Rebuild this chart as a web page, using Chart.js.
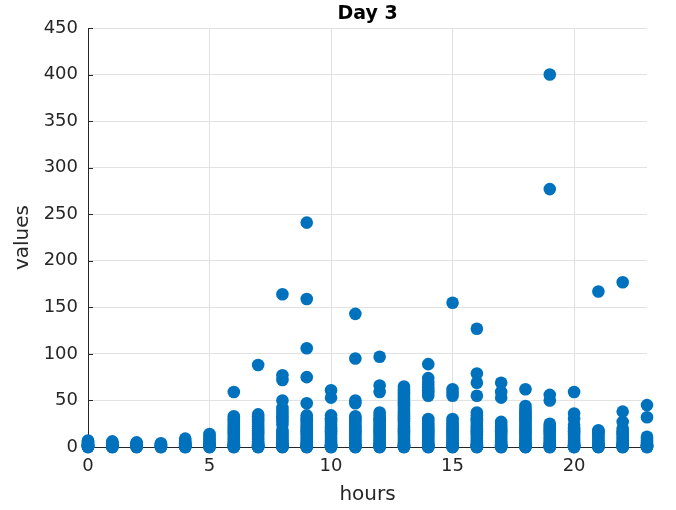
<!DOCTYPE html>
<html><head><meta charset="utf-8">
<script src="https://cdn.jsdelivr.net/npm/chart.js@4/dist/chart.umd.min.js"></script>
<style>html,body{margin:0;padding:0;background:#fff;}canvas{display:block;}</style>
</head><body>
<canvas id="c" width="676" height="510"></canvas>
<script>
const titleText = 'Day 3';
const xLabel = 'hours';
const yLabel = 'values';
const hourLabels = [0,1,2,3,4,5,6,7,8,9,10,11,12,13,14,15,16,17,18,19,20,21,22,23];
const xTickValues = [0,5,10,15,20];
const yTickValues = [0,50,100,150,200,250,300,350,400,450];

const h00 = [0,0,0,1,1,2,2,3,4,5,6,7];
const h01 = [0,0,0,1,1,2,3,4,5,6];
const h02 = [0,0,0,1,1,2,3,4,5];
const h03 = [0,0,0,1,2,3,4];
const h04 = [0,0,0,1,2,3,4,5,7,9];
const h05 = [0,0,0,1,2,3,4,6,8,10,12,14];
const h06 = [0,0,0,1,2,3,4,6,8,10,12,14,16,18,20,22,24,26,28,30,33,59];
const h07 = [0,0,0,1,2,3,4,6,8,10,12,14,16,18,20,22,24,26,28,30,33,35,88];
const h08 = [0,0,0,1,2,3,5,7,9,11,13,15,18,24,27,30,33,36,39,42,50,72,77,164];
const h09 = [0,0,0,1,2,3,5,7,9,11,13,15,17,19,21,23,25,27,29,31,34,47,75,106,159,241];
const h10 = [0,0,0,1,2,3,5,7,9,11,13,15,17,19,21,23,25,27,29,31,34,53,61];
const h11 = [0,0,0,1,2,3,5,7,9,11,13,15,17,19,21,23,25,27,29,31,33,47,50,95,143];
const h12 = [0,0,0,1,2,3,5,7,9,11,13,15,17,19,21,23,25,27,29,31,34,37,59,66,97];
const h13 = [0,0,0,1,2,3,5,7,9,11,13,15,17,19,21,23,25,27,29,31,33,35,37,39,41,43,45,47,49,51,53,55,57,59,62,65];
const h14 = [0,0,0,1,2,3,5,7,9,11,13,15,17,19,21,23,25,27,30,55,58,61,64,67,70,74,89];
const h15 = [0,0,0,1,2,3,5,7,9,11,13,15,17,19,21,23,25,27,30,55,58,62,155];
const h16 = [0,0,0,1,2,3,5,7,9,11,13,15,17,19,21,23,25,27,29,31,34,37,55,69,79,127];
const h17 = [0,0,0,1,2,3,5,7,9,11,13,15,17,19,21,23,25,27,53,59,69];
const h18 = [0,0,0,1,2,3,5,7,9,11,13,15,17,19,21,23,25,27,29,31,33,35,37,39,41,44,62];
const h19 = [0,0,0,1,2,3,5,7,9,11,13,15,17,19,21,23,25,50,56,277,400];
const h20 = [0,0,0,1,2,3,5,7,9,11,13,15,17,19,21,24,30,36,59];
const h21 = [0,0,0,1,2,3,5,7,9,11,13,15,17,18,167];
const h22 = [0,0,0,1,2,3,5,7,9,11,13,15,17,20,27,38,177];
const h23 = [0,0,0,1,2,3,5,7,9,11,32,45];

const hourValues = [h00,h01,h02,h03,h04,h05,h06,h07,h08,h09,h10,h11,h12,h13,h14,h15,h16,h17,h18,h19,h20,h21,h22,h23];

const points = [];
hourValues.forEach((arr, i) => arr.forEach(v => points.push({x: hourLabels[i], y: v})));

const axisColor = '#262626';
const fontFamily = 'DejaVu Sans';

const titlePlugin = {
  id: 'plotTitle',
  afterDraw(chart) {
    const {ctx, chartArea} = chart;
    ctx.save();
    ctx.font = 'bold 19px "' + fontFamily + '"';
    ctx.fillStyle = '#000';
    ctx.textAlign = 'center';
    ctx.textBaseline = 'alphabetic';
    ctx.fillText(titleText, (chartArea.left + chartArea.right) / 2, 18.5);
    ctx.restore();
  }
};

const innerTicks = {
  id: 'innerTicks',
  beforeDatasetsDraw(chart) {
    const {ctx, chartArea, scales} = chart;
    ctx.save();
    ctx.strokeStyle = axisColor;
    ctx.lineWidth = 1;
    ctx.beginPath();
    yTickValues.forEach(v => {
      const py = Math.round(scales.y.getPixelForValue(v)) + 0.5;
      ctx.moveTo(chartArea.left, py);
      ctx.lineTo(chartArea.left + 5, py);
    });
    xTickValues.forEach(v => {
      const px = Math.round(scales.x.getPixelForValue(v)) + 0.5;
      ctx.moveTo(px, chartArea.bottom);
      ctx.lineTo(px, chartArea.bottom - 5);
    });
    ctx.stroke();
    ctx.restore();
  }
};

new Chart(document.getElementById('c').getContext('2d'), {
  type: 'scatter',
  data: {
    datasets: [{
      data: points,
      backgroundColor: '#0072BD',
      borderColor: '#0072BD',
      borderWidth: 0,
      pointRadius: 6.3,
      pointHoverRadius: 6.3,
      clip: false
    }]
  },
  options: {
    responsive: false,
    animation: false,
    devicePixelRatio: 1,
    layout: {padding: {top: 28, right: 29, left: 0, bottom: 0}},
    plugins: {legend: {display: false}, tooltip: {enabled: false}},
    scales: {
      x: {
        type: 'linear',
        min: 0, max: 23,
        afterBuildTicks: s => { s.ticks = xTickValues.map(v => ({value: v})); },
        afterFit: s => { s.height = 63; },
        ticks: {stepSize: 5, font: {family: fontFamily, size: 18}, color: axisColor, padding: 9, maxRotation: 0},
        grid: {color: '#e2e2e2', drawTicks: false},
        border: {display: true, color: axisColor, width: 1},
        title: {display: true, text: xLabel, font: {family: fontFamily, size: 20}, color: axisColor, padding: {top: 0, bottom: 3}}
      },
      y: {
        type: 'linear',
        min: 0, max: 450,
        afterBuildTicks: s => { s.ticks = yTickValues.map(v => ({value: v})); },
        afterFit: s => { s.width = 88; },
        ticks: {stepSize: 50, font: {family: fontFamily, size: 18}, color: axisColor, padding: 10},
        grid: {color: '#e2e2e2', drawTicks: false},
        border: {display: true, color: axisColor, width: 1},
        title: {display: true, text: yLabel, font: {family: fontFamily, size: 20}, color: axisColor, padding: {top: 11, bottom: 0}}
      }
    }
  },
  plugins: [titlePlugin, innerTicks]
});
</script>
</body></html>
